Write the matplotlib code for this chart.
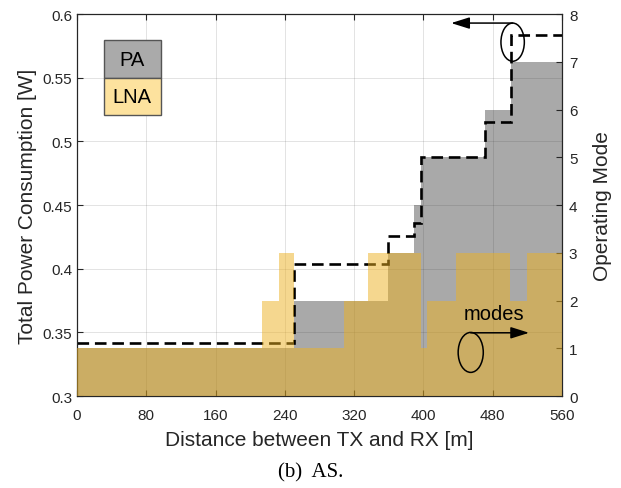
import numpy as np
import matplotlib
matplotlib.use("Agg")
import matplotlib.pyplot as plt
from matplotlib.patches import Ellipse, Rectangle

# operating modes per distance segment (right axis)
pa_edges = [0, 250, 359, 389, 397, 471, 501, 560]
pa_modes = [1, 2, 3, 4, 5, 6, 7]
lna_edges = [0, 214, 233, 250, 308, 336, 397, 404, 438, 500, 520, 560]
lna_modes = [1, 2, 3, 1, 2, 3, 1, 2, 3, 2, 3]

# total power consumption per segment (left axis)
pwr_edges = [0, 250, 359, 389, 397, 471, 501, 560]
pwr_values = [0.342, 0.404, 0.426, 0.436, 0.4875, 0.515, 0.584]

x_ticks = [0, 80, 160, 240, 320, 400, 480, 560]
y_ticks = [0.3, 0.35, 0.4, 0.45, 0.5, 0.55, 0.6]
y_tick_labels = ['0.3', '0.35', '0.4', '0.45', '0.5', '0.55', '0.6']
mode_ticks = [0, 1, 2, 3, 4, 5, 6, 7, 8]

plt.rcParams['font.family'] = ['Liberation Sans', 'DejaVu Sans']
txt = '#262626'
gray = '#a9a9a9'
gold = '#edb120'

fig = plt.figure(figsize=(6.21, 4.89), dpi=100)
ax = fig.add_axes([0.124, 0.188, 0.781, 0.781])
axp = ax.twinx()
axt = ax.twinx()
axp.set_zorder(1)
ax.set_zorder(2)
axt.set_zorder(3)
ax.patch.set_visible(False)
axt.patch.set_visible(False)

# PA modes (gray) under everything
axp.stairs(pa_modes, pa_edges, fill=True, baseline=0, color=gray, linewidth=0)
axp.set_ylim(0, 8)
axp.set_yticks(mode_ticks)
axp.tick_params(axis='y', direction='in', length=4, labelsize=11, colors=txt, pad=5)
axp.set_ylabel('Operating Mode', fontsize=15, color=txt, labelpad=11)

# total power dashed line
ax.stairs(pwr_values, pwr_edges, baseline=None, color='black',
          linewidth=1.9, linestyle=(0, (4.4, 2.2)))
ax.set_xlim(0, 560)
ax.set_ylim(0.3, 0.6)
ax.set_xticks(x_ticks)
ax.set_yticks(y_ticks)
ax.set_yticklabels(y_tick_labels)
ax.tick_params(direction='in', length=4, labelsize=11, colors=txt, top=True)
ax.tick_params(axis='x', pad=8.5)
ax.grid(True, color=txt, alpha=0.15, linewidth=0.6)
ax.set_xlabel('Distance between TX and RX [m]', fontsize=15, color=txt, labelpad=6)
ax.set_ylabel('Total Power Consumption [W]', fontsize=15, color=txt)
for s in ax.spines.values():
    s.set_color(txt)
    s.set_linewidth(0.8)

# LNA modes (semi-transparent gold) on top
axt.stairs(lna_modes, lna_edges, fill=True, baseline=0, color=gold,
           alpha=0.5, linewidth=0)
axt.set_ylim(0, 8)
axt.set_xlim(0, 560)
axt.axis('off')

# legend boxes
axt.add_patch(Rectangle((0.0557, 0.8325), 0.117, 0.1002, transform=axt.transAxes,
                        facecolor='#aaaaaa', edgecolor='#555555', lw=1, clip_on=False))
axt.add_patch(Rectangle((0.0557, 0.7364), 0.117, 0.0961, transform=axt.transAxes,
                        facecolor='#fde29e', edgecolor='#555555', lw=1, clip_on=False))
axt.text(0.114, 0.882, 'PA', transform=axt.transAxes, fontsize=14.5,
         ha='center', va='center', color='black')
axt.text(0.114, 0.785, 'LNA', transform=axt.transAxes, fontsize=14.5,
         ha='center', va='center', color='black')

arrow = dict(arrowstyle='-|>,head_length=0.7,head_width=0.22', color='black',
             lw=1.1, mutation_scale=16, shrinkA=0, shrinkB=0)

# annotation: dashed line -> left axis
axt.add_patch(Ellipse((503, 0.578), 27, 0.030, transform=ax.transData,
                      fill=False, edgecolor='black', lw=1.1))
axt.annotate('', xy=(432, 0.593), xytext=(503, 0.593),
             xycoords=ax.transData, textcoords=ax.transData, arrowprops=arrow)

# annotation: bars -> right axis
axt.add_patch(Ellipse((454.6, 0.3343), 29, 0.0314, transform=ax.transData,
                      fill=False, edgecolor='black', lw=1.1))
axt.annotate('', xy=(522, 0.3497), xytext=(454.6, 0.3497),
             xycoords=ax.transData, textcoords=ax.transData, arrowprops=arrow)
axt.text(481, 0.3645, 'modes', transform=ax.transData, fontsize=14.5,
         ha='center', va='center', color='black')

fig.text(0.5, 0.033, '(b)  AS.', fontsize=15, family='Liberation Serif',
         ha='center', va='center', color='black')

fig.savefig('out.png', dpi=100)
